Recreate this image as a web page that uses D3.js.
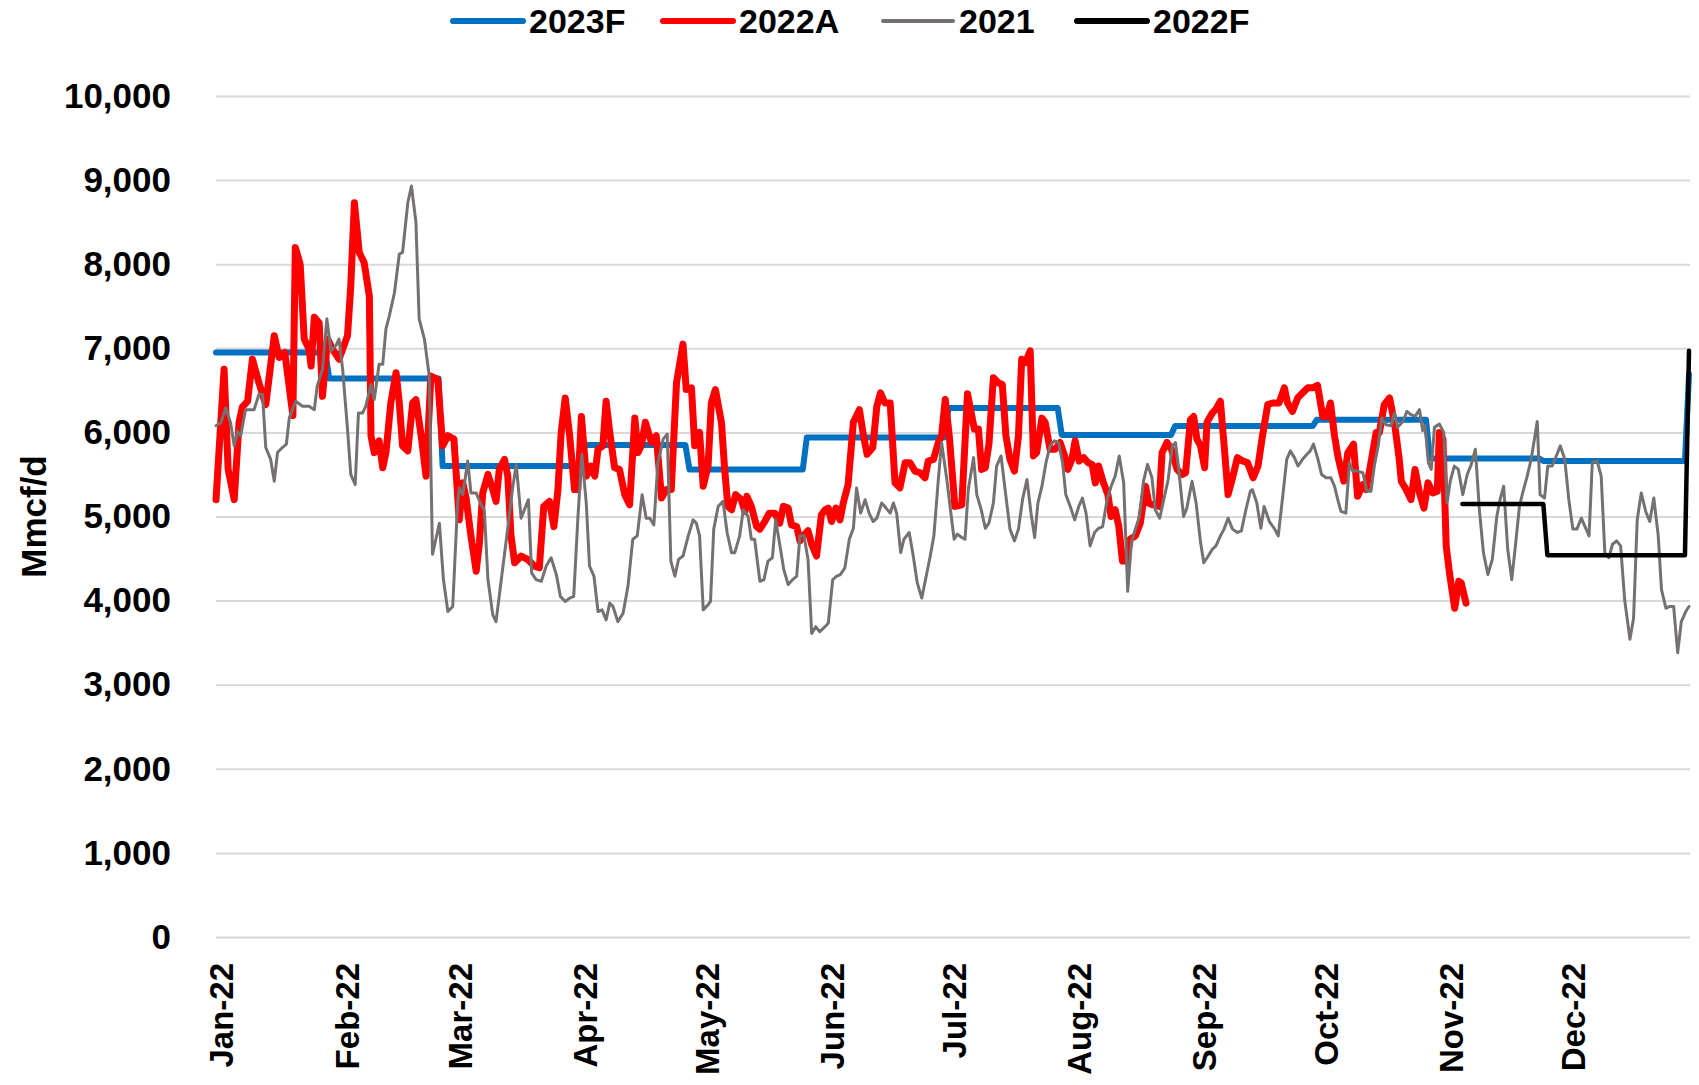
<!DOCTYPE html>
<html>
<head>
<meta charset="utf-8">
<script src="https://cdn.jsdelivr.net/npm/d3@7"></script>
<style>
    body { margin: 0; background: #fff; }
    text { font-family: "Liberation Sans", Arial, sans-serif; font-weight: bold; fill: #000; }
</style>
</head>
<body>
<div id="chart-area"></div>
<script>
// Month tick labels and the day of the year each starts on
var monthLabels = ["Jan-22", "Feb-22", "Mar-22", "Apr-22", "May-22", "Jun-22",
                   "Jul-22", "Aug-22", "Sep-22", "Oct-22", "Nov-22", "Dec-22"];
var monthStarts = [0, 31, 59, 90, 120, 151, 181, 212, 243, 273, 304, 334];
var yTicks = [0, 1000, 2000, 3000, 4000, 5000, 6000, 7000, 8000, 9000, 10000];

// 2023F forecast: first day of each level, and the level
var f2023Starts = [0, 28, 56, 91, 117, 146, 181, 209, 237, 272, 300, 328, 364];
var f2023Levels = [6950, 6640, 5600, 5850, 5560, 5940, 6290, 5970, 6075, 6150, 5690, 5660, 6690];

// 2022F forecast
var f2022Starts = [308, 329, 364];
var f2022Levels = [5150, 4540, 6970];

// 2022A actuals [day of year, Mmcf/d]
var actual2022 = [
    [0,5200],[2,6750],[3,5560],[4.5,5200],[5.7,6120],[6.5,6300],[7.8,6370],[9,6870],[10.6,6590],
    [12.3,6330],[14.4,7150],[15.6,6890],[17,6950],[19,6200],[19.6,8200],[20.8,8000],[21.8,7110],
    [23,6990],[23.5,6790],[24.3,7370],[25.5,7300],[26.3,6430],[27.6,7110],[28.8,6990],[30.4,6870],
    [32.5,7150],[33.3,7740],[34.2,8730],[35.4,8140],[36.6,8020],[37.9,7620],[38.3,5960],[39.1,5760],
    [40.3,5900],[41.2,5580],[42,5760],[43.2,6350],[44.5,6710],[45.3,6350],[46.1,5840],[47.4,5780],
    [48.6,6350],[49.4,6390],[50.7,5960],[51.9,5480],[53.1,6670],[54.8,6630],[56,5840],[57.3,5960],
    [58.8,5920],[60.1,4960],[61,5400],[61.8,5220],[63,4770],[64.3,4350],[65.1,4690],[65.9,5280],
    [67.2,5500],[68.4,5320],[69.2,5180],[70,5560],[71.3,5680],[72.1,5480],[72.9,4770],[73.8,4450],
    [75.4,4530],[77,4490],[78.7,4410],[79.9,4390],[81,5120],[82.4,5180],[83.5,4880],[84.5,5320],
    [85.3,6000],[86.3,6410],[87.4,5960],[88.6,5320],[89.4,5320],[90.3,6190],[91.5,5480],[92.7,5600],
    [93.6,5480],[94.4,5800],[95.6,5840],[96.4,6370],[97.3,6000],[98.5,5580],[99.7,5560],[101,5260],
    [102.2,5140],[103.5,6170],[104.3,5760],[105.1,5840],[106.1,6120],[107.6,5880],[108.8,5960],
    [110.1,5220],[111.3,5320],[112.5,5320],[113.8,6590],[115.4,7050],[116.2,6510],[117.5,6530],
    [118.3,5840],[119.5,6000],[120.4,5360],[121.6,5600],[122.4,6350],[123.4,6510],[124.9,6120],
    [125.7,5560],[126.5,5120],[127.4,5080],[128.4,5260],[129.8,5200],[130.7,5060],[131.2,5240],
    [132.3,5120],[133.6,4880],[134.4,4850],[135.6,4940],[136.7,5040],[138.1,5040],[139.3,4920],
    [140.2,5120],[141.4,5100],[142.2,4900],[143.5,4880],[144.3,4710],[145.1,4770],[146.3,4830],
    [147.2,4670],[148.4,4530],[149.6,5020],[150.5,5080],[151.3,5100],[152.1,4940],[153.2,5100],
    [154.2,4960],[155,5160],[156.2,5380],[157.5,6120],[159,6270],[160,5960],[160.9,5740],[162.3,5820],
    [163.3,6310],[164.2,6470],[165.3,6350],[166.6,6350],[167.8,5400],[169,5340],[170.3,5640],
    [171.5,5640],[172.7,5540],[174,5520],[175.2,5460],[176,5660],[177.3,5680],[178.5,5880],
    [179.3,5960],[180.2,6390],[181.2,5960],[182.6,5120],[184.3,5140],[185.7,6460],[187.4,6040],
    [188.4,6040],[189.2,5560],[190.1,5580],[191,5860],[192.1,6650],[193.3,6590],[194.3,6570],
    [195.2,5960],[196.2,5680],[197.3,5540],[198.3,5960],[199.1,6870],[200,6830],[201.2,6970],
    [202,5720],[202.8,5760],[204.1,6170],[204.9,6120],[206.1,5800],[207.4,5800],[208.6,5880],
    [209.7,5720],[210.5,5560],[211.5,5680],[212.3,5900],[213.3,5660],[214.4,5700],[215.5,5640],
    [216.5,5620],[217.3,5400],[218.1,5600],[219.3,5400],[220.4,5260],[221.2,5000],[222.2,5080],
    [223.1,4880],[224,4470],[225.1,4470],[225.9,4730],[227.2,4770],[228.4,4920],[229.7,5360],
    [230.5,5160],[231.3,5140],[232.1,5140],[233,5120],[233.8,5760],[235,5880],[236.1,5800],
    [237.5,5560],[238.7,5500],[239.6,5520],[240.8,6150],[241.6,6190],[242.4,5920],[243.3,5840],
    [244.3,5580],[244.9,6120],[246.2,6230],[247,6270],[248.2,6370],[249.2,5800],[250.1,5260],
    [251.2,5460],[252.4,5700],[253.7,5660],[254.9,5640],[256.3,5460],[257.5,5600],[258.6,5960],
    [259.9,6330],[261.1,6350],[262.7,6350],[264,6530],[264.8,6350],[266,6250],[267.3,6410],
    [268.5,6470],[269.8,6530],[271,6530],[272.2,6560],[273.5,6190],[274.5,6190],[275.4,6350],
    [276.4,5960],[277.3,5700],[278.7,5420],[279.7,5760],[281.1,5860],[282.1,5240],[283.4,5380],
    [284.2,5320],[285.4,5640],[286.7,6000],[287.5,6000],[288.7,6330],[290,6410],[291.2,6120],
    [292.4,5680],[292.9,5420],[294.1,5320],[295.3,5200],[296.3,5560],[297.4,5280],[298.5,5100],
    [299.5,5400],[300.7,5280],[301.8,5300],[302.3,6000],[303.2,5920],[304,4650],[304.8,4330],
    [306.1,3910],[307.1,4230],[307.7,4210],[308.9,3970]
];

// 2021 actuals [day of year, Mmcf/d]
var actual2021 = [
    [0,6080],[1.2,6115],[2.4,6290],[3.6,6115],[4.5,5840],[5.3,6010],[6.1,5960],[7.3,6270],[9.4,6270],
    [10.6,6450],[11.5,6450],[12.3,5820],[13.5,5680],[14.4,5420],[15.2,5760],[16.4,5820],[17.4,5860],
    [18.1,6170],[19.7,6370],[21.4,6310],[23,6310],[24.3,6270],[25,6550],[26.3,6750],[27.4,7350],
    [28.4,6970],[29.6,7030],[30.4,7110],[31.3,6750],[32.5,6040],[33.3,5500],[34.4,5380],[35.2,6230],
    [36.2,6230],[37,6310],[38.3,6570],[39.1,6390],[40.3,6810],[41.2,6810],[42,7230],[42.8,7380],
    [44.1,7660],[45.3,8120],[46.1,8140],[47.4,8730],[48.3,8930],[49.4,8500],[50.2,7350],[51.5,7110],
    [52.7,6670],[53.5,4550],[55.2,4920],[56.2,4250],[57.3,3870],[58.5,3930],[59.7,5160],[60.1,5340],
    [61,5260],[62.2,5660],[63,5280],[64.3,5280],[65.5,5140],[66.3,5080],[67.2,4250],[68.4,3830],
    [69.2,3750],[70.5,4250],[72.1,4860],[73.3,5340],[74.2,5620],[75.4,4980],[76.2,5080],[77.2,5200],
    [78,4330],[79.1,4250],[80.4,4230],[81.6,4410],[82.8,4510],[84.1,4310],[85.1,4050],[86.3,3990],
    [87.4,4030],[88.4,4050],[89.4,4960],[90.4,5740],[91.5,5160],[92.3,4410],[93.4,4290],[94.4,3870],
    [95.4,3890],[96.4,3770],[97.3,3970],[98.1,3930],[99.3,3750],[100.6,3850],[101.8,4170],[103,4730],
    [104.1,4770],[105.3,5260],[106.3,4980],[107.2,4980],[108.2,4900],[109.2,5640],[110.5,5920],
    [111.5,5980],[112.4,4470],[113.4,4290],[114.3,4490],[115.4,4530],[116.7,4770],[117.9,4960],
    [118.7,4920],[119.5,4770],[120.4,3890],[121.6,3950],[122.2,3990],[123,4850],[124.1,5120],
    [125.3,5180],[126.3,4810],[127.4,4570],[128.2,4570],[129.4,4770],[130.3,5080],[131.5,5000],
    [132.3,4730],[133.1,4730],[134.4,4230],[135.4,4250],[136.4,4470],[137.5,4510],[138.3,4960],
    [139.5,4610],[140.3,4370],[141.4,4190],[142.5,4250],[143.5,4290],[144.3,4770],[145.3,4770],
    [146.3,4490],[147.2,3610],[148.2,3690],[149.2,3630],[150.5,3690],[151.3,3730],[152.4,4250],
    [153.4,4290],[154.3,4310],[155.4,4390],[156.5,4730],[157.5,4860],[158.3,5340],[159.3,5040],
    [160.4,5200],[161.4,5040],[162.4,4940],[163.3,4980],[164.5,5160],[165.6,5100],[166.6,5040],
    [167.4,5160],[168.2,5040],[169.2,4570],[170,4730],[171.3,4810],[172.3,4530],[173.3,4210],
    [174.4,4030],[175.5,4290],[176.5,4530],[177.4,4770],[178.5,5440],[179.3,5880],[180.6,5440],
    [181.6,5040],[182.4,4730],[183.2,4790],[184.3,4750],[185.1,4730],[185.9,5320],[187.2,5700],
    [188,5260],[189.1,5080],[190.1,4860],[191,4920],[192.1,5160],[192.9,5600],[194,5720],[195,5320],
    [196.2,4850],[197.3,4710],[198.3,4850],[199.3,5200],[200.4,5440],[201.4,5040],[202.3,4750],
    [203.1,5160],[204.1,5360],[205.1,5640],[206.1,5840],[207.2,5900],[208.2,5880],[209.2,5640],
    [210,5260],[211.1,5120],[212.2,4960],[213.2,5120],[214.1,5220],[215,5040],[216,4650],[217.1,4810],
    [218.1,4860],[219.1,4880],[220.2,5200],[221.2,5360],[222.2,5480],[223.2,5720],[224.3,5400],
    [225.3,4110],[226.2,4690],[227.2,4850],[228.2,5000],[229.2,5420],[230.2,5620],[231.3,5460],
    [232.1,5080],[233.2,4980],[234.2,5200],[235.3,5440],[236.3,5840],[237.1,5880],[237.9,5560],
    [239.1,5000],[239.9,5100],[241.2,5420],[242.2,5160],[243.3,4690],[244.1,4450],[245.2,4530],
    [246.2,4610],[247.1,4650],[248.2,4770],[249.1,4850],[250.1,4980],[251.2,4850],[252.4,4810],
    [253.4,4830],[254.5,5080],[255.6,5300],[256.1,5320],[257.2,5160],[258.2,4860],[259,5120],
    [260.3,4940],[261.5,4860],[262.5,4770],[263.6,5240],[264.6,5680],[265.5,5780],[266.5,5700],
    [267.4,5600],[268.5,5680],[269.6,5740],[270.4,5780],[271.2,5860],[272.2,5700],[273.2,5500],
    [274.3,5460],[275.5,5460],[276.4,5360],[277.2,5200],[278,5060],[279.2,5040],[280.1,5640],
    [280.9,5540],[282.1,5540],[283.4,5520],[284.4,5300],[285.4,5300],[286.3,5620],[287.2,5840],
    [288.1,6170],[289.1,6090],[290.4,6080],[291.2,6230],[292,6060],[293.3,6130],[294.3,6250],
    [295.3,6210],[296.3,6190],[297.4,6270],[298.2,6020],[298.8,6080],[299.6,5640],[300.3,5560],
    [301.1,6060],[302.3,6100],[303.4,6000],[304.2,5160],[305,5420],[306,5600],[307,5560],[308.1,5260],
    [309.2,5500],[310.2,5620],[311.2,5800],[312.2,5080],[313.2,4570],[314.3,4310],[315.4,4490],
    [316.5,5000],[317.3,5200],[318.2,5360],[319.2,4610],[320.2,4250],[321.1,4650],[322.1,5120],
    [323,5300],[323.9,5460],[325,5680],[325.8,5920],[326.5,6130],[327.2,5260],[328.3,5220],
    [329.1,5600],[330.2,5600],[331.2,5720],[332.2,5840],[333.3,5680],[334.3,5200],[335.3,4850],
    [336.3,4850],[337.4,4980],[338.5,4860],[339.3,4770],[340.1,5640],[341.3,5660],[342.3,5480],
    [343.2,4570],[344.2,4510],[345.1,4670],[346.1,4710],[347.1,4650],[348.1,4010],[349.4,3540],
    [350.3,3790],[351.2,4960],[352.2,5280],[353.3,5060],[354.3,4940],[355.3,5220],[356.4,4770],
    [357.2,4130],[358.3,3910],[359.3,3930],[360.2,3930],[361.2,3380],[362.1,3750],[363.2,3870],
    [364,3930]
];

var width = 1699, height = 1085;
var plot = { left: 216, right: 1689, top: 96, bottom: 937 };

var svg = d3.select("#chart-area")
    .append("svg")
        .attr("width", width)
        .attr("height", height);

// X Scale (day of year)
var x = d3.scaleLinear()
    .domain([0, 364])
    .range([plot.left, plot.right]);

// Y Scale
var y = d3.scaleLinear()
    .domain([0, 10000])
    .range([plot.bottom, plot.top]);

// Y Axis + gridlines
var yAxisCall = d3.axisLeft(y)
    .tickValues(yTicks)
    .tickSize(-(plot.right - plot.left + 1))
    .tickPadding(45)
    .tickFormat(d3.format(","));

var yAxisGroup = svg.append("g")
    .attr("transform", "translate(" + plot.left + ",0)")
    .call(yAxisCall);
yAxisGroup.select(".domain").remove();
yAxisGroup.selectAll("line")
    .attr("stroke", "#d9d9d9")
    .attr("stroke-width", 2);
yAxisGroup.selectAll("text")
    .attr("font-size", "35px")
    .attr("font-family", "Liberation Sans, Arial, sans-serif")
    .attr("font-weight", "bold")
    .attr("fill", "#000");

// X Axis (month labels, rotated)
var xAxisCall = d3.axisBottom(x)
    .tickValues(monthStarts)
    .tickSize(0)
    .tickFormat(function(d, i){ return monthLabels[i]; });

var xAxisGroup = svg.append("g")
    .attr("transform", "translate(0," + plot.bottom + ")")
    .call(xAxisCall);
xAxisGroup.select(".domain").remove();
xAxisGroup.selectAll("text")
    .attr("transform", "rotate(-90)")
    .attr("x", -26)
    .attr("y", 5)
    .attr("dy", "0.35em")
    .attr("text-anchor", "end")
    .attr("font-size", "33px")
    .attr("font-family", "Liberation Sans, Arial, sans-serif")
    .attr("font-weight", "bold")
    .attr("fill", "#000");

// Y Label
svg.append("text")
    .attr("transform", "translate(33," + ((plot.top + plot.bottom) / 2) + ") rotate(-90)")
    .attr("text-anchor", "middle")
    .attr("dominant-baseline", "central")
    .attr("font-size", "35px")
    .text("Mmcf/d");

// Step series -> points, one day to move between levels
function stepPoints(starts, levels) {
    var pts = [];
    starts.forEach(function(s, i){
        var end = i < starts.length - 1 ? starts[i + 1] - 1 : s;
        pts.push([s, levels[i]]);
        if (end > s) pts.push([end, levels[i]]);
    });
    return pts;
}

var line = d3.line()
    .x(function(d){ return x(d[0]); })
    .y(function(d){ return y(d[1]); });

var series = [
    { name: "2023F", color: "#0070c0", width: 6, pts: stepPoints(f2023Starts, f2023Levels) },
    { name: "2022A", color: "#ff0000", width: 7, pts: actual2022 },
    { name: "2021",  color: "#767171", width: 3, pts: actual2021 },
    { name: "2022F", color: "#000000", width: 4.5, pts: stepPoints(f2022Starts, f2022Levels) }
];

svg.append("g").selectAll("path")
    .data(series)
    .enter()
    .append("path")
        .attr("d", function(d){ return line(d.pts); })
        .attr("fill", "none")
        .attr("stroke", function(d){ return d.color; })
        .attr("stroke-width", function(d){ return d.width; })
        .attr("stroke-linejoin", "round")
        .attr("stroke-linecap", "round");

// Legend
var legendX = [453, 663, 883, 1077];
var legend = svg.append("g").selectAll("g")
    .data(series)
    .enter()
    .append("g")
        .attr("transform", function(d, i){ return "translate(" + legendX[i] + ",21)"; });

legend.append("line")
    .attr("x1", 0)
    .attr("x2", 70)
    .attr("stroke", function(d){ return d.color; })
    .attr("stroke-width", function(d){ return d.name == "2021" ? 4 : 6; })
    .attr("stroke-linecap", "round");

legend.append("text")
    .attr("x", 76)
    .attr("dominant-baseline", "central")
    .attr("font-size", "34px")
    .text(function(d){ return d.name; });
</script>
</body>
</html>
